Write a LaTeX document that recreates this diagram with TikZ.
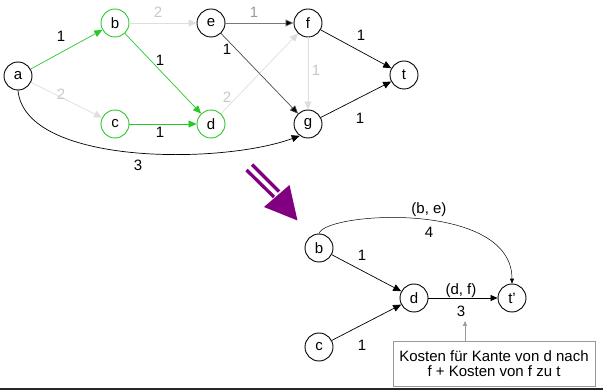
\documentclass[tikz,border=0pt]{standalone}
\usepackage{fontspec}
\setmainfont{Liberation Sans}
\usetikzlibrary{arrows.meta}
\definecolor{grn}{RGB}{40,200,40}
\definecolor{lgr}{RGB}{222,222,222}
\definecolor{lgtxt}{RGB}{200,200,200}
\definecolor{mgr}{RGB}{120,120,120}
\definecolor{arrowpurple}{RGB}{128,0,128}
\tikzset{
  vtx/.style={circle,draw=black,line width=0.9pt,minimum size=28pt,inner sep=0pt,font=\fontsize{15}{16}\selectfont},
  gvtx/.style={vtx,draw=grn},
  edg/.style={line width=0.7pt,-{Triangle[length=8pt,width=7pt]}},
  gedg/.style={edg,draw=grn,-{Triangle[length=8pt,width=7pt,fill=grn]},color=grn},
  ledg/.style={edg,color=lgr},
  lbl/.style={inner sep=0pt,font=\fontsize{15}{16}\selectfont},
  llbl/.style={lbl,text=lgtxt},
}
\begin{document}
\begin{tikzpicture}[x=1pt,y=-1pt]
\useasboundingbox (0,0) rectangle (603,390);
% upper graph nodes
\node[vtx]  (a) at (18,76) {a};
\node[gvtx] (b) at (115,23) {b};
\node[vtx]  (e) at (211,23) {e};
\node[vtx]  (f) at (308,23) {f};
\node[vtx]  (t) at (404,75) {t};
\node[gvtx] (c) at (115,124) {c};
\node[gvtx] (d) at (211,124) {d};
\node[vtx]  (g) at (308,124) {g};
% upper edges
\draw[gedg] (a) -- (b);
\draw[gedg] (b) -- (d);
\draw[gedg] (c) -- (d);
\draw[ledg] (b) -- (e);
\draw[ledg] (a) -- (c);
\draw[ledg] (d) -- (f);
\draw[ledg] (f) -- (g);
\draw[edg,color=mgr,-{Triangle[length=8pt,width=7pt,fill=black]}] (e) -- (f);
\draw[edg,color=black!70,-{Triangle[length=8pt,width=7pt,fill=black]}] (e) -- (g);
\draw[edg] (f) -- (t);
\draw[edg] (g) -- (t);
\draw[edg] (a.south) .. controls (25,165) and (220,165) .. (g.235);
% upper labels
\node[lbl]  (lab) at (61,36) {1};
\node[llbl] (lbe) at (158,12) {2};
\node[lbl,text=black!40] (lef) at (254,12) {1};
\node[lbl]  (leg) at (227,49) {1};
\node[lbl]  (lbd) at (160,60) {1};
\node[llbl] (lac) at (61,94) {2};
\node[lbl]  (lcd) at (160,132) {1};
\node[llbl] (ldf) at (227,97) {2};
\node[llbl] (lfg) at (316,70) {1};
\node[lbl]  (lft) at (361,35) {1};
\node[lbl]  (lgt) at (360,118) {1};
\node[lbl]  (lag) at (138,165) {3};
% purple arrow
\draw[arrowpurple,line width=3.3pt] (246.5,170) -- (274,197);
\draw[arrowpurple,line width=3.3pt] (252,164.5) -- (279,191.5);
\fill[arrowpurple] (264,207) -- (289.5,185) -- (297.5,220.5) -- cycle;
% lower graph
\node[vtx] (b2) at (319,248) {b};
\node[vtx] (d2) at (414,298) {d};
\node[vtx] (t2) at (512,298) {t'};
\node[vtx] (c2) at (319,347) {c};
\draw[edg] (b2) -- (d2);
\draw[edg] (c2) -- (d2);
\draw[edg,-{Triangle[length=7pt,width=6pt]}] (d2) -- (t2);
\draw[line width=0.5pt,-{Triangle[length=5pt,width=4pt]}] (b2.north) .. controls (325,212) and (512,200) .. (t2.north);
\node[lbl] (lbe2) at (429,210) {(b, e)};
\node[lbl] (l4)   at (429,232) {4};
\node[lbl] (lbd2) at (362,255) {1};
\node[lbl] (ldf2) at (461,291) {(d, f)};
\node[lbl] (l3)   at (461,311) {3};
\node[lbl] (lcd2) at (362,345) {1};
% annotation box
\node[draw=black!40,line width=0.7pt,minimum width=202pt,minimum height=45pt,inner sep=0pt,align=center,
      font=\fontsize{15}{15.5}\selectfont] (box) at (494,363.5) {Kosten für Kante von d nach\\f + Kosten von f zu t};
\coordinate (atip) at (465,321);
\draw[black!40,line width=0.6pt,-{Triangle[length=5pt,width=4pt]}] (box.north west -| atip) -- (atip);
% bottom rule
\draw[black!85,line width=1.6pt] (0,388.7) -- (603,388.7);
\end{tikzpicture}
\end{document}
